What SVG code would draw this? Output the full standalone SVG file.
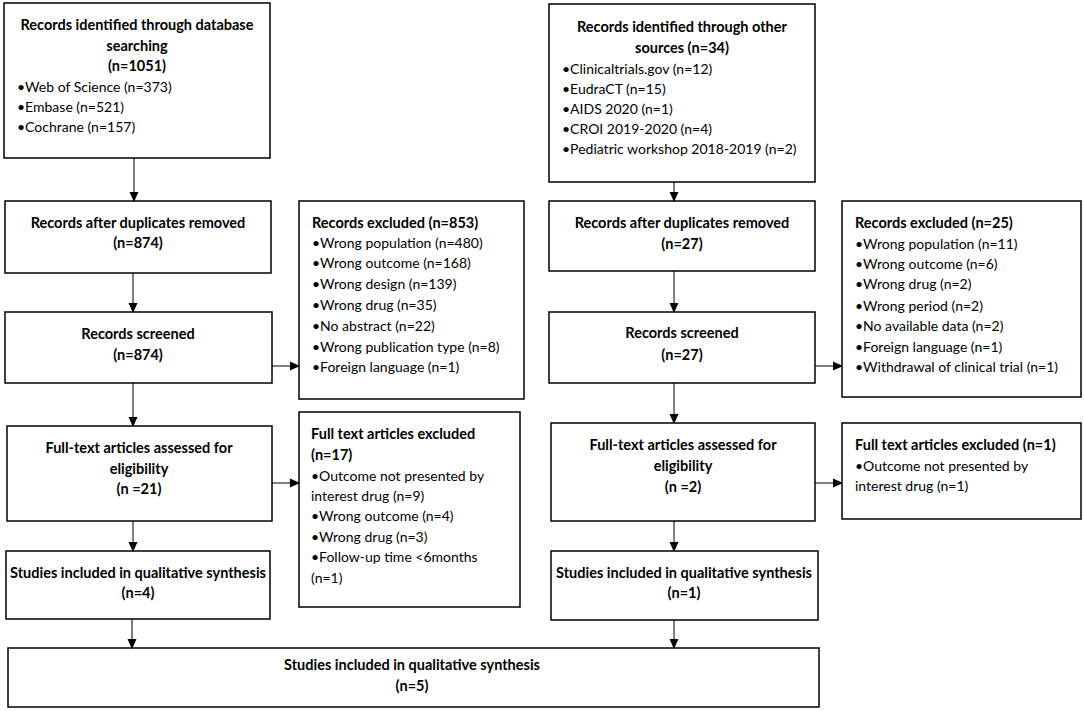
<svg xmlns="http://www.w3.org/2000/svg" width="1084" height="711" viewBox="0 0 1084 711">
<defs>
<marker id="ah" markerWidth="10" markerHeight="10" refX="9" refY="5" orient="auto" markerUnits="userSpaceOnUse">
<path d="M0,0.5 L10,5 L0,9.5 Z" fill="#000"/>
</marker>
<style>
.box{fill:#fff;stroke:#000;stroke-width:1.5}
.t{font-family:Lato,"Liberation Sans",sans-serif;font-size:14px;fill:#000}
.b{font-weight:bold;font-size:14.5px}
.c{text-anchor:middle}
.ln{stroke:#000;stroke-width:1;fill:none;marker-end:url(#ah)}
</style>
</defs>
<rect width="1084" height="711" fill="#fff"/>

<g id="db">
<rect class="box" x="4" y="3" width="266" height="155"/>
<text class="t b c" x="137" y="30">Records identified through database</text>
<text class="t b c" x="137" y="51">searching</text>
<text class="t b c" x="137" y="71">(n=1051)</text>
<text class="t" x="17" y="92">•Web of Science (n=373)</text>
<text class="t" x="17" y="112">•Embase (n=521)</text>
<text class="t" x="17" y="132">•Cochrane (n=157)</text>
</g>

<g id="other">
<rect class="box" x="549" y="4" width="266" height="178"/>
<text class="t b c" x="682" y="32">Records identified through other</text>
<text class="t b c" x="682" y="53">sources (n=34)</text>
<text class="t" x="562" y="74">•Clinicaltrials.gov (n=12)</text>
<text class="t" x="562" y="94">•EudraCT (n=15)</text>
<text class="t" x="562" y="114">•AIDS 2020 (n=1)</text>
<text class="t" x="562" y="134">•CROI 2019-2020 (n=4)</text>
<text class="t" x="562" y="154">•Pediatric workshop 2018-2019 (n=2)</text>
</g>

<g id="dupL">
<rect class="box" x="5" y="201" width="266" height="72"/>
<text class="t b c" x="138" y="228">Records after duplicates removed</text>
<text class="t b c" x="138" y="248">(n=874)</text>
</g>

<g id="exclL">
<rect class="box" x="299" y="201" width="225" height="198"/>
<text class="t b" x="312" y="228">Records excluded (n=853)</text>
<text class="t" x="312" y="248">•Wrong population (n=480)</text>
<text class="t" x="312" y="268">•Wrong outcome (n=168)</text>
<text class="t" x="312" y="289">•Wrong design (n=139)</text>
<text class="t" x="312" y="310">•Wrong drug (n=35)</text>
<text class="t" x="312" y="331">•No abstract (n=22)</text>
<text class="t" x="312" y="352">•Wrong publication type (n=8)</text>
<text class="t" x="312" y="372">•Foreign language (n=1)</text>
</g>

<g id="scrL">
<rect class="box" x="5" y="312" width="267" height="71"/>
<text class="t b c" x="138" y="339">Records screened</text>
<text class="t b c" x="138" y="360">(n=874)</text>
</g>

<g id="ftL">
<rect class="box" x="7" y="426" width="265" height="95"/>
<text class="t b c" x="139" y="453">Full-text articles assessed for</text>
<text class="t b c" x="139" y="474">eligibility</text>
<text class="t b c" x="139" y="494">(n =21)</text>
</g>

<g id="ftexL">
<rect class="box" x="299" y="412" width="221" height="195"/>
<text class="t b" x="311" y="439">Full text articles excluded</text>
<text class="t b" x="311" y="460">(n=17)</text>
<text class="t" x="311" y="481">•Outcome not presented by</text>
<text class="t" x="311" y="501">interest drug (n=9)</text>
<text class="t" x="311" y="521">•Wrong outcome (n=4)</text>
<text class="t" x="311" y="542">•Wrong drug (n=3)</text>
<text class="t" x="311" y="562">•Follow-up time &lt;6months</text>
<text class="t" x="311" y="583">(n=1)</text>
</g>

<g id="stL">
<rect class="box" x="6" y="551" width="264" height="68"/>
<text class="t b c" x="138" y="578">Studies included in qualitative synthesis</text>
<text class="t b c" x="138" y="598">(n=4)</text>
</g>

<g id="dupR">
<rect class="box" x="549" y="201" width="266" height="70"/>
<text class="t b c" x="682" y="228">Records after duplicates removed</text>
<text class="t b c" x="682" y="249">(n=27)</text>
</g>

<g id="exclR">
<rect class="box" x="842" y="201" width="239" height="196"/>
<text class="t b" x="855" y="228">Records excluded (n=25)</text>
<text class="t" x="855" y="249">•Wrong population (n=11)</text>
<text class="t" x="855" y="269">•Wrong outcome (n=6)</text>
<text class="t" x="855" y="289">•Wrong drug (n=2)</text>
<text class="t" x="855" y="311">•Wrong period (n=2)</text>
<text class="t" x="855" y="331">•No available data (n=2)</text>
<text class="t" x="855" y="352">•Foreign language (n=1)</text>
<text class="t" x="855" y="372">•Withdrawal of clinical trial (n=1)</text>
</g>

<g id="scrR">
<rect class="box" x="549" y="312" width="266" height="71"/>
<text class="t b c" x="682" y="338">Records screened</text>
<text class="t b c" x="682" y="360">(n=27)</text>
</g>

<g id="ftR">
<rect class="box" x="551" y="423" width="264" height="98"/>
<text class="t b c" x="683" y="450">Full-text articles assessed for</text>
<text class="t b c" x="683" y="471">eligibility</text>
<text class="t b c" x="683" y="492">(n =2)</text>
</g>

<g id="ftexR">
<rect class="box" x="842" y="423" width="239" height="96"/>
<text class="t b" x="855" y="450">Full text articles excluded (n=1)</text>
<text class="t" x="855" y="471">•Outcome not presented by</text>
<text class="t" x="855" y="491">interest drug (n=1)</text>
</g>

<g id="stR">
<rect class="box" x="551" y="551" width="267" height="69"/>
<text class="t b c" x="684" y="578">Studies included in qualitative synthesis</text>
<text class="t b c" x="684" y="598">(n=1)</text>
</g>

<g id="final">
<rect class="box" x="8" y="648" width="811" height="59"/>
<text class="t b c" x="412" y="670">Studies included in qualitative synthesis</text>
<text class="t b c" x="412" y="691">(n=5)</text>
</g>

<g id="connectors">
<line class="ln" x1="134" y1="158" x2="134" y2="201"/>
<line class="ln" x1="133" y1="273" x2="133" y2="312"/>
<line class="ln" x1="133" y1="383" x2="133" y2="426"/>
<line class="ln" x1="133" y1="521" x2="133" y2="551"/>
<line class="ln" x1="132" y1="619" x2="132" y2="648"/>
<line class="ln" x1="272" y1="366" x2="299" y2="366"/>
<line class="ln" x1="272" y1="483" x2="299" y2="483"/>
<line class="ln" x1="674" y1="182" x2="674" y2="201"/>
<line class="ln" x1="674" y1="271" x2="674" y2="312"/>
<line class="ln" x1="674" y1="383" x2="674" y2="423"/>
<line class="ln" x1="674" y1="521" x2="674" y2="551"/>
<line class="ln" x1="674" y1="620" x2="674" y2="648"/>
<line class="ln" x1="815" y1="366" x2="842" y2="366"/>
<line class="ln" x1="815" y1="483" x2="842" y2="483"/>
</g>
</svg>
